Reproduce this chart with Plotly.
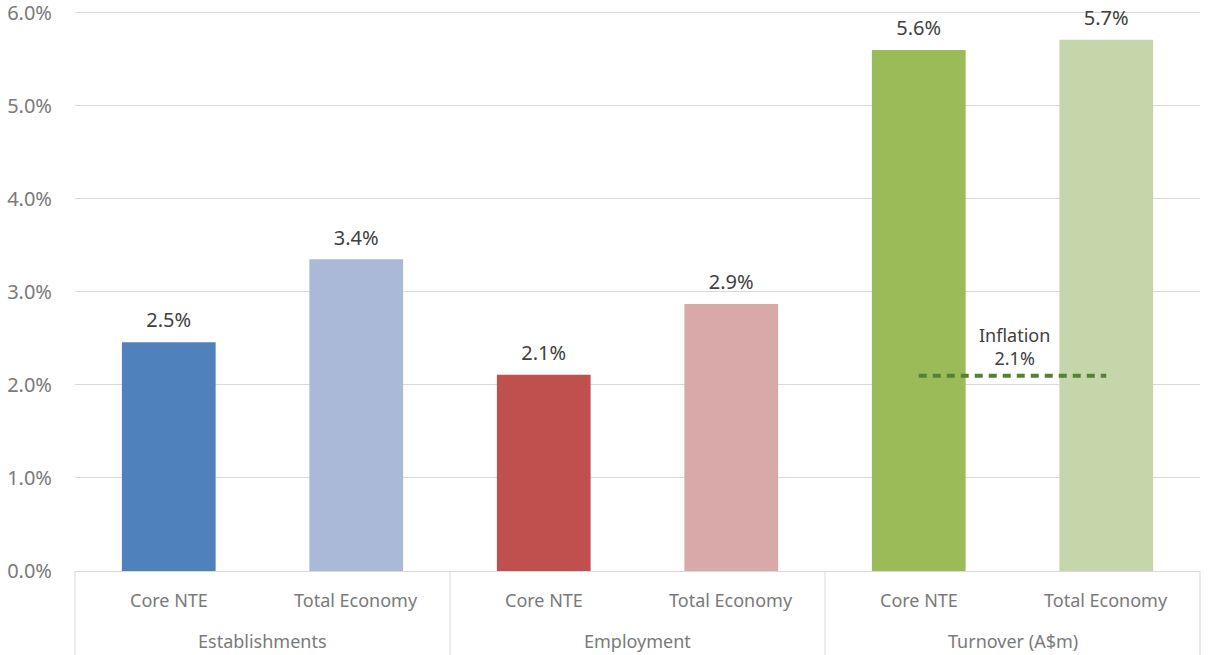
import plotly.graph_objects as go

# Average annual growth by measure, core NTE vs total economy
groups = ["Establishments", "Establishments", "Employment", "Employment",
          "Turnover (A$m)", "Turnover (A$m)"]
segments = ["Core NTE", "Total Economy", "Core NTE", "Total Economy",
            "Core NTE", "Total Economy"]
growth = [2.46, 3.35, 2.11, 2.87, 5.60, 5.71]
bar_colors = ["#4F81BD", "#A9B9D7", "#C0504D", "#D9A9A9", "#9BBB59", "#C6D6AB"]
y_ticks = [0, 1, 2, 3, 4, 5, 6]

inflation = 2.1
inflation_span = [["Turnover (A$m)", "Turnover (A$m)"], ["Core NTE", "Total Economy"]]

FONT = "Noto Sans, Open Sans, sans-serif"
LABEL_GREY = "#7A7A7A"
VALUE_GREY = "#404040"
LINE_GREY = "#D9D9D9"

W, H = 1208, 655
M_L, M_R, M_T, M_B = 75, 8, 11, 84
PLOT_H = H - M_T - M_B

fig = go.Figure()

fig.add_trace(go.Bar(
    x=[groups, segments],
    y=growth,
    marker=dict(color=bar_colors, line=dict(width=0)),
    hoverinfo="skip",
))

# value labels above the bars
fig.add_trace(go.Scatter(
    x=[groups, segments],
    y=growth,
    mode="markers+text",
    marker=dict(size=14, opacity=0),
    text=[f"{v:.1f}%" for v in growth],
    textposition="top center",
    textfont=dict(family=FONT, size=20, color=VALUE_GREY),
    cliponaxis=False,
    hoverinfo="skip",
))

# inflation reference line across the turnover pair
fig.add_trace(go.Scatter(
    x=inflation_span,
    y=[inflation, inflation],
    mode="lines",
    line=dict(color="#548235", width=4, dash="8px,6px"),
    hoverinfo="skip",
))

fig.add_annotation(
    xref="paper", x=0.8347, xanchor="center",
    yref="y", y=inflation, yanchor="bottom", yshift=4,
    text=f"Inflation<br>{inflation:.1f}%",
    showarrow=False,
    font=dict(family=FONT, size=18, color=VALUE_GREY),
)

# two-level category labels under the axis
n = len(segments)
for i, seg in enumerate(segments):
    fig.add_annotation(
        xref="paper", x=(i + 0.5) / n, xanchor="center",
        yref="paper", y=-29 / PLOT_H, yanchor="middle",
        text=seg, showarrow=False,
        font=dict(family=FONT, size=18, color=LABEL_GREY),
    )

group_names = list(dict.fromkeys(groups))
bounds = [0]
for g in group_names:
    bounds.append(bounds[-1] + groups.count(g))
for k, g in enumerate(group_names):
    fig.add_annotation(
        xref="paper", x=(bounds[k] + bounds[k + 1]) / 2 / n, xanchor="center",
        yref="paper", y=-70 / PLOT_H, yanchor="middle",
        text=g, showarrow=False,
        font=dict(family=FONT, size=18, color=LABEL_GREY),
    )

# group dividers below the axis
for b in bounds:
    fig.add_shape(
        type="line", xref="paper", yref="paper",
        x0=b / n, x1=b / n, y0=0, y1=-M_B / PLOT_H,
        line=dict(color=LINE_GREY, width=1),
    )

fig.update_layout(
    width=W, height=H,
    margin=dict(l=M_L, r=M_R, t=M_T, b=M_B, autoexpand=False),
    paper_bgcolor="white", plot_bgcolor="white",
    showlegend=False,
    bargap=0.5,
    font=dict(family=FONT, size=18, color=LABEL_GREY),
)

fig.update_xaxes(
    type="multicategory", automargin=False,
    showline=True, linecolor=LINE_GREY, linewidth=1,
    showticklabels=False, showdividers=False,
    ticks="", showgrid=False,
)

fig.update_yaxes(
    range=[0, 6.02], tickmode="array", tickvals=y_ticks,
    ticktext=[f"{v:.1f}%" for v in y_ticks],
    ticklabeloverflow="allow",
    automargin=False,
    showgrid=True, gridcolor=LINE_GREY, gridwidth=1,
    zeroline=False, showline=False,
    ticklabelstandoff=22,
    tickfont=dict(family=FONT, size=20, color=LABEL_GREY),
)

fig.write_html("out.html")
